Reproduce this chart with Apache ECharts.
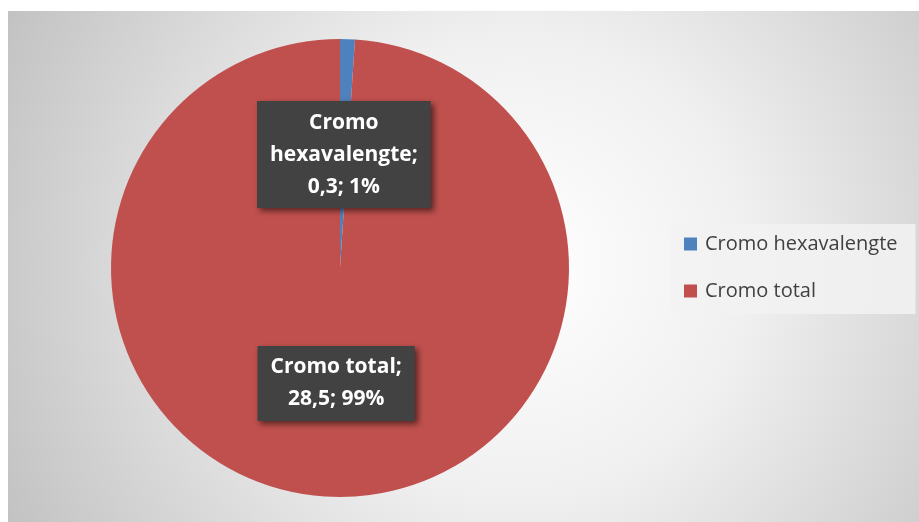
<!DOCTYPE html>
<html>
<head>
<meta charset="utf-8">
<script src="https://cdn.jsdelivr.net/npm/echarts@6/dist/echarts.min.js"></script>
<style>
  html, body { margin: 0; padding: 0; background: #fff; }
  #chart { width: 919px; height: 522px; }
</style>
</head>
<body>
<div id="chart"></div>
<script>
  // datos del gráfico
  const names = ['Cromo hexavalengte', 'Cromo total'];
  const values = [0.3, 28.5];
  const colors = ['#4f81bd', '#c0504d'];

  const chart = echarts.init(document.getElementById('chart'));

  function fmtNum(v) {
    return String(v).replace('.', ',');
  }

  chart.setOption({
    animation: false,
    textStyle: { fontFamily: 'Open Sans' },
    graphic: [{
      type: 'rect',
      z: -10,
      shape: { x: 8, y: 11, width: 911, height: 511 },
      style: {
        fill: {
          type: 'radial',
          x: 0.56, y: 0.5, r: 1.12,
          colorStops: [
            { offset: 0, color: '#ffffff' },
            { offset: 0.4, color: '#f0f0f0' },
            { offset: 1, color: '#c2c2c2' }
          ]
        }
      }
    }],
    legend: {
      orient: 'vertical',
      left: 671,
      top: 224,
      padding: [10, 18, 13, 13],
      backgroundColor: 'rgba(242,242,242,0.85)',
      itemWidth: 13,
      itemHeight: 13,
      itemGap: 27,
      icon: 'rect',
      textStyle: { color: '#404040', fontSize: 20, lineHeight: 20, fontFamily: 'Open Sans', padding: [0, 0, 0, 3] },
      data: names
    },
    series: [{
      type: 'pie',
      center: [340, 268],
      radius: 229,
      startAngle: 90,
      clockwise: true,
      silent: true,
      label: {
        show: true,
        position: 'inside',
        color: '#fff',
        fontSize: 21,
        fontWeight: 'bold',
        fontFamily: 'Open Sans',
        lineHeight: 32,
        align: 'center',
        backgroundColor: '#424242',
        padding: [6, 13, 5, 13],
        shadowColor: 'rgba(0,0,0,0.55)',
        shadowBlur: 6,
        shadowOffsetX: 3,
        shadowOffsetY: 3,
        formatter(p) {
          const n = p.dataIndex === 0 ? p.name.replace(' ', '\n') : p.name;
          return n + ';\n' + fmtNum(p.value) + '; ' + Math.round(p.percent) + '%';
        }
      },
      labelLine: { show: false },
      data: names.map((n, i) => ({
        name: n,
        value: values[i],
        itemStyle: { color: colors[i] },
        label: { offset: i === 0 ? [0, 4] : [0, -2] }
      }))
    }]
  });
</script>
</body>
</html>
